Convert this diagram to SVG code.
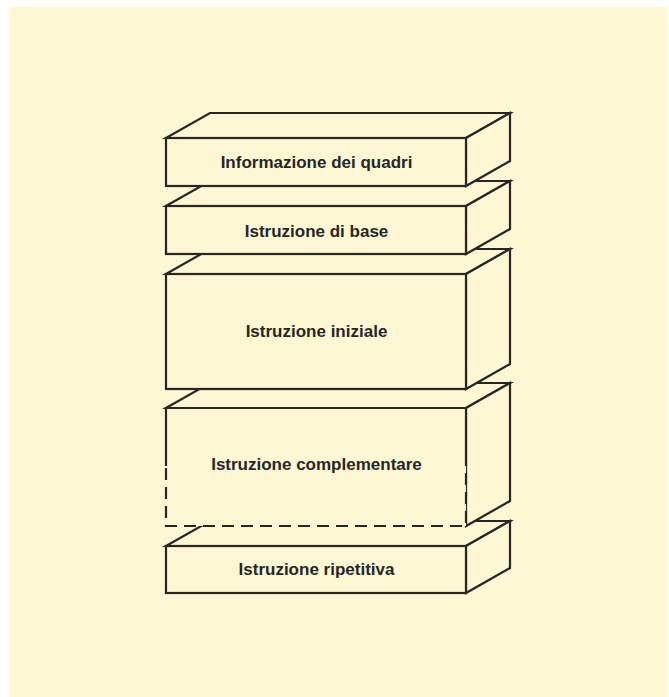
<svg xmlns="http://www.w3.org/2000/svg" width="669" height="697" viewBox="0 0 669 697">
<style>
.face{fill:#fdf7d4;stroke:#262626;stroke-width:2.2;stroke-linejoin:miter}
.nofill{fill:none;stroke:#262626;stroke-width:2.2}
.dash{fill:none;stroke:#262626;stroke-width:2.2;stroke-dasharray:12 7}
.label{font-family:"Liberation Sans",Arial,sans-serif;font-weight:bold;font-size:17px;fill:#262626;text-anchor:middle}
</style>
<rect x="0" y="0" width="669" height="697" fill="#ffffff"/>
<rect x="10" y="7" width="657" height="690" fill="#fdf7d4"/>
<g id="connectors"/>
<g id="box5">
<polygon class="face" points="166,546 210,521 510,521 466,546"/>
<polygon class="face" points="466,546 510,521 510,568 466,593"/>
<rect class="face" x="166" y="546" width="300" height="47"/>
<text class="label" x="316.5" y="575">Istruzione ripetitiva</text>
</g>
<g id="box4">
<polygon class="face" points="166,408 210,383 510,383 466,408"/>
<polygon class="face" points="466,408 510,383 510,501 466,526"/>
<rect x="166" y="408" width="300" height="118" fill="#fdf7d4" stroke="none"/>
<path class="nofill" d="M166,466 V408 H466 V466"/>
<path class="dash" d="M166,468 V526 H466 V468"/>
<text class="label" x="316.5" y="470">Istruzione complementare</text>
</g>
<g id="box3">
<polygon class="face" points="166,274 210,249 510,249 466,274"/>
<polygon class="face" points="466,274 510,249 510,364 466,389"/>
<rect class="face" x="166" y="274" width="300" height="115"/>
<text class="label" x="316.5" y="337">Istruzione iniziale</text>
</g>
<g id="box2">
<polygon class="face" points="166,206 210,181 510,181 466,206"/>
<polygon class="face" points="466,206 510,181 510,229 466,254"/>
<rect class="face" x="166" y="206" width="300" height="48"/>
<text class="label" x="316.5" y="237">Istruzione di base</text>
</g>
<g id="box1">
<polygon class="face" points="166,138 210,113 510,113 466,138"/>
<polygon class="face" points="466,138 510,113 510,161 466,186"/>
<rect class="face" x="166" y="138" width="300" height="48"/>
<text class="label" x="316.5" y="168">Informazione dei quadri</text>
</g>
</svg>
